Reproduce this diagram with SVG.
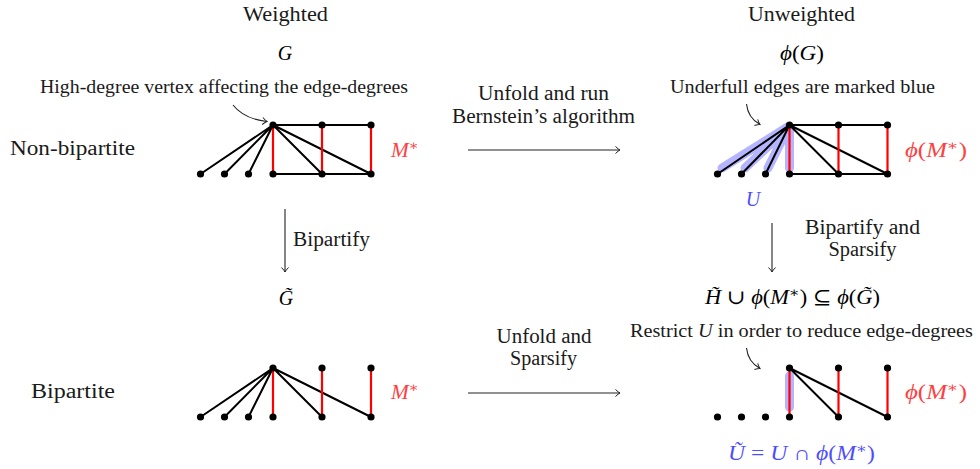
<svg xmlns="http://www.w3.org/2000/svg" width="980" height="469" viewBox="0 0 980 469">
<style>
.t{font-family:"Liberation Serif","DejaVu Serif",serif;font-size:20px;fill:#1a1a1a}
.s{font-family:"Liberation Serif","DejaVu Serif",serif;font-size:19px;fill:#1a1a1a}
.m{font-family:"Liberation Serif","DejaVu Serif",serif;font-size:20px;font-style:italic}
.e{stroke:#000;stroke-width:2;fill:none;stroke-linecap:round}
.r{stroke:#ff0000;stroke-width:2.2;fill:none}
.hl{stroke:#b4b4ff;stroke-width:9;stroke-linecap:round;fill:none}
.v{fill:#000}
.a{stroke:#222;stroke-width:1.1;fill:none}
.red{fill:#ff4040}
.blue{fill:#4d4dff}
</style>
<defs>
<marker id="arr" viewBox="-6 -5 7 10" refX="0" refY="0" markerWidth="7" markerHeight="10" markerUnits="userSpaceOnUse" orient="auto" overflow="visible">
<path d="M-4.5,-3.5 Q-1.5,-0.6 0,0 Q-1.5,0.6 -4.5,3.5" fill="none" stroke="#222" stroke-width="1"/>
</marker>
</defs>

<!-- column / row headers -->
<g id="hdr-weighted"><text class="t" x="285.5" y="21" text-anchor="middle" textLength="85" lengthAdjust="spacingAndGlyphs">Weighted</text></g>
<g id="hdr-unweighted"><text class="t" x="801.5" y="21" text-anchor="middle" textLength="107" lengthAdjust="spacingAndGlyphs">Unweighted</text></g>
<g id="hdr-nonbip"><text class="t" x="10" y="155" textLength="125" lengthAdjust="spacingAndGlyphs">Non-bipartite</text></g>
<g id="hdr-bip"><text class="t" x="31" y="398" textLength="84" lengthAdjust="spacingAndGlyphs">Bipartite</text></g>

<!-- graph titles -->
<g id="title-G"><text class="m" x="285" y="60" text-anchor="middle">G</text></g>
<g id="title-phiG"><text class="m" x="802" y="60" text-anchor="middle" textLength="44" lengthAdjust="spacingAndGlyphs">ϕ<tspan font-style="normal">(</tspan>G<tspan font-style="normal">)</tspan></text></g>
<g id="title-Gtilde"><text class="m" x="286" y="305" text-anchor="middle">G&#x303;</text></g>
<g id="title-H"><text class="m" x="792.5" y="304" text-anchor="middle" textLength="175" lengthAdjust="spacingAndGlyphs">H&#x303;<tspan font-style="normal"> ∪ </tspan>ϕ<tspan font-style="normal">(</tspan>M<tspan dy="-7" font-size="14" font-style="normal">∗</tspan><tspan dy="7" font-style="normal">) ⊆ </tspan>ϕ<tspan font-style="normal">(</tspan>G&#x303;<tspan font-style="normal">)</tspan></text></g>

<!-- annotations -->
<g id="note-high"><text class="s" x="224" y="93" text-anchor="middle" textLength="368" lengthAdjust="spacingAndGlyphs">High-degree vertex affecting the edge-degrees</text></g>
<g id="note-underfull"><text class="s" x="802.5" y="93" text-anchor="middle" textLength="265" lengthAdjust="spacingAndGlyphs">Underfull edges are marked blue</text></g>
<g id="note-restrict"><text class="s" x="630" y="337" textLength="343" lengthAdjust="spacingAndGlyphs">Restrict <tspan font-style="italic">U</tspan> in order to reduce edge-degrees</text></g>

<!-- Graph G (top-left) -->
<g id="graph-G">
<path class="e" d="M273,125 L200.5,174 M273,125 L224.5,174 M273,125 L248.5,174 M273,125 L322,174 M273,125 L371,174 M273,125 H371 M273,174 H371"/>
<path class="r" d="M273,125 V174 M322,125 V174 M371,125 V174"/>
<g class="v"><circle cx="273" cy="125" r="3.6"/><circle cx="322" cy="125" r="3.6"/><circle cx="371" cy="125" r="3.6"/><circle cx="200.5" cy="174" r="3.6"/><circle cx="224.5" cy="174" r="3.6"/><circle cx="248.5" cy="174" r="3.6"/><circle cx="273" cy="174" r="3.6"/><circle cx="322" cy="174" r="3.6"/><circle cx="371" cy="174" r="3.6"/></g>
<text class="m red" x="391" y="157" textLength="28" lengthAdjust="spacingAndGlyphs">M<tspan dy="-7" font-size="14" font-style="normal">∗</tspan></text>
</g>

<!-- Graph phi(G) (top-right) -->
<g id="graph-phiG">
<path class="hl" d="M787.5,127 L722,168 M787.5,128 L745,168 M787.5,129 L768,168 M789.5,129 V168"/>
<path class="e" d="M789.5,125 L717.5,174 M789.5,125 L741.5,174 M789.5,125 L765.5,174 M789.5,125 L838.5,174 M789.5,125 L887.5,174 M789.5,125 H887.5 M789.5,174 H887.5"/>
<path class="r" d="M789.5,125 V174 M838.5,125 V174 M887.5,125 V174"/>
<g class="v"><circle cx="789.5" cy="125" r="3.6"/><circle cx="838.5" cy="125" r="3.6"/><circle cx="887.5" cy="125" r="3.6"/><circle cx="717.5" cy="174" r="3.6"/><circle cx="741.5" cy="174" r="3.6"/><circle cx="765.5" cy="174" r="3.6"/><circle cx="789.5" cy="174" r="3.6"/><circle cx="838.5" cy="174" r="3.6"/><circle cx="887.5" cy="174" r="3.6"/></g>
<text class="m red" x="905" y="157" textLength="62" lengthAdjust="spacingAndGlyphs">ϕ<tspan font-style="normal">(</tspan>M<tspan dy="-7" font-size="14" font-style="normal">∗</tspan><tspan dy="7" font-style="normal">)</tspan></text>
<text class="m blue" x="753" y="206" text-anchor="middle">U</text>
</g>

<!-- Graph G~ (bottom-left) -->
<g id="graph-Gtilde">
<path class="e" d="M273,368 L200.5,417 M273,368 L224.5,417 M273,368 L248.5,417 M273,368 L322,417 M273,368 L371,417"/>
<path class="r" d="M273,368 V417 M322,368 V417 M371,368 V417"/>
<g class="v"><circle cx="273" cy="368" r="3.6"/><circle cx="322" cy="368" r="3.6"/><circle cx="371" cy="368" r="3.6"/><circle cx="200.5" cy="417" r="3.6"/><circle cx="224.5" cy="417" r="3.6"/><circle cx="248.5" cy="417" r="3.6"/><circle cx="273" cy="417" r="3.6"/><circle cx="322" cy="417" r="3.6"/><circle cx="371" cy="417" r="3.6"/></g>
<text class="m red" x="391" y="399" textLength="28" lengthAdjust="spacingAndGlyphs">M<tspan dy="-7" font-size="14" font-style="normal">∗</tspan></text>
</g>

<!-- Graph H~ (bottom-right) -->
<g id="graph-Htilde">
<path class="hl" d="M789.5,376 V407"/>
<path class="e" d="M789.5,368 L838.5,417 M789.5,368 L887.5,417"/>
<path class="r" d="M789.5,368 V417 M838.5,368 V417 M887.5,368 V417"/>
<g class="v"><circle cx="789.5" cy="368" r="3.6"/><circle cx="838.5" cy="368" r="3.6"/><circle cx="887.5" cy="368" r="3.6"/><circle cx="717.5" cy="417" r="3.6"/><circle cx="741.5" cy="417" r="3.6"/><circle cx="765.5" cy="417" r="3.6"/><circle cx="789.5" cy="417" r="3.6"/><circle cx="838.5" cy="417" r="3.6"/><circle cx="887.5" cy="417" r="3.6"/></g>
<text class="m red" x="905" y="399" textLength="62" lengthAdjust="spacingAndGlyphs">ϕ<tspan font-style="normal">(</tspan>M<tspan dy="-7" font-size="14" font-style="normal">∗</tspan><tspan dy="7" font-style="normal">)</tspan></text>
<text class="m blue" x="801.5" y="460" text-anchor="middle" textLength="147" lengthAdjust="spacingAndGlyphs">U&#x303;<tspan font-style="normal"> = </tspan>U<tspan font-style="normal"> ∩ </tspan>ϕ<tspan font-style="normal">(</tspan>M<tspan dy="-7" font-size="14" font-style="normal">∗</tspan><tspan dy="7" font-style="normal">)</tspan></text>
</g>

<!-- connectors -->
<g id="connectors">
<path class="a" d="M468,150 H620" marker-end="url(#arr)"/>
<path class="a" d="M468,393 H620" marker-end="url(#arr)"/>
<path class="a" d="M285,209 V272" marker-end="url(#arr)"/>
<path class="a" d="M772,223 V272" marker-end="url(#arr)"/>
<path class="a" d="M233,105 Q244,119 267,121.5" marker-end="url(#arr)"/>
<path class="a" d="M746.5,104 Q748,118 760,124.5" marker-end="url(#arr)"/>
<path class="a" d="M746.5,348 Q748,362 760,368.5" marker-end="url(#arr)"/>
<text class="t" x="543.5" y="100" text-anchor="middle" textLength="131" lengthAdjust="spacingAndGlyphs">Unfold and run</text>
<text class="t" x="543.5" y="123" text-anchor="middle" textLength="183" lengthAdjust="spacingAndGlyphs">Bernstein’s algorithm</text>
<text class="t" x="544" y="343" text-anchor="middle" textLength="95" lengthAdjust="spacingAndGlyphs">Unfold and</text>
<text class="t" x="543.5" y="365" text-anchor="middle" textLength="67" lengthAdjust="spacingAndGlyphs">Sparsify</text>
<text class="t" x="293" y="246" textLength="77" lengthAdjust="spacingAndGlyphs">Bipartify</text>
<text class="t" x="862.5" y="234" text-anchor="middle" textLength="115" lengthAdjust="spacingAndGlyphs">Bipartify and</text>
<text class="t" x="862.5" y="256" text-anchor="middle" textLength="68" lengthAdjust="spacingAndGlyphs">Sparsify</text>
</g>
</svg>
